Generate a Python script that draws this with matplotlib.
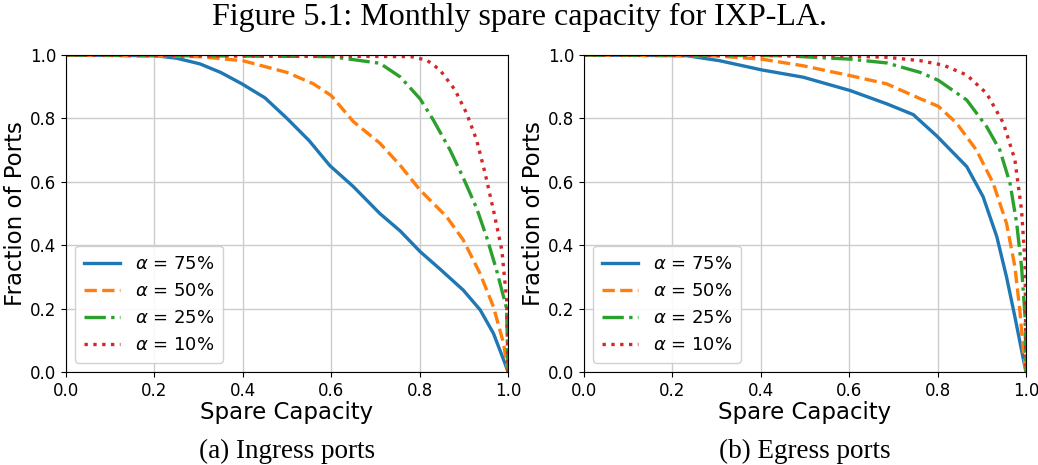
import numpy as np
import matplotlib
matplotlib.use("Agg")
import matplotlib.pyplot as plt

# fraction of ports with at least the given monthly spare capacity
ingress_75_x = [0.0, 0.2, 0.25, 0.303, 0.35, 0.398, 0.45, 0.5, 0.55, 0.597, 0.65, 0.71, 0.756, 0.801, 0.846, 0.899, 0.937, 0.967, 0.993, 1.0]
ingress_75_y = [1.0, 0.998, 0.99, 0.972, 0.945, 0.909, 0.865, 0.80, 0.73, 0.651, 0.585, 0.50, 0.445, 0.38, 0.325, 0.258, 0.196, 0.122, 0.028, 0.0]
ingress_50_x = [0.0, 0.3, 0.4, 0.5, 0.56, 0.6, 0.65, 0.71, 0.756, 0.801, 0.861, 0.899, 0.937, 0.967, 0.99, 1.0]
ingress_50_y = [1.0, 0.995, 0.982, 0.945, 0.909, 0.872, 0.79, 0.722, 0.652, 0.574, 0.49, 0.416, 0.31, 0.206, 0.09, 0.0]
ingress_25_x = [0.0, 0.6, 0.71, 0.756, 0.801, 0.831, 0.869, 0.899, 0.929, 0.952, 0.974, 0.997, 1.0]
ingress_25_y = [1.0, 0.995, 0.974, 0.931, 0.862, 0.795, 0.70, 0.612, 0.517, 0.424, 0.322, 0.20, 0.0]
ingress_10_x = [0.0, 0.78, 0.816, 0.846, 0.88, 0.906, 0.929, 0.948, 0.967, 0.986, 0.997, 1.0]
ingress_10_y = [1.0, 0.995, 0.984, 0.953, 0.89, 0.817, 0.732, 0.628, 0.511, 0.385, 0.227, 0.0]

egress_75_x = [0.0, 0.232, 0.307, 0.402, 0.496, 0.602, 0.685, 0.745, 0.798, 0.866, 0.903, 0.934, 0.956, 0.975, 0.99, 1.0]
egress_75_y = [1.0, 0.998, 0.982, 0.953, 0.93, 0.888, 0.846, 0.812, 0.745, 0.648, 0.553, 0.427, 0.30, 0.174, 0.069, 0.0]
egress_50_x = [0.0, 0.3, 0.402, 0.496, 0.602, 0.685, 0.761, 0.802, 0.843, 0.888, 0.926, 0.956, 0.975, 0.986, 0.994, 1.0]
egress_50_y = [1.0, 0.997, 0.987, 0.966, 0.935, 0.909, 0.862, 0.838, 0.785, 0.70, 0.595, 0.469, 0.332, 0.196, 0.069, 0.0]
egress_25_x = [0.0, 0.45, 0.602, 0.685, 0.761, 0.802, 0.866, 0.911, 0.941, 0.964, 0.979, 0.99, 0.998, 1.0]
egress_25_y = [1.0, 0.998, 0.987, 0.975, 0.945, 0.92, 0.858, 0.774, 0.70, 0.595, 0.469, 0.332, 0.174, 0.0]
egress_10_x = [0.0, 0.55, 0.685, 0.761, 0.813, 0.866, 0.911, 0.949, 0.975, 0.99, 0.998, 1.0]
egress_10_y = [1.0, 0.998, 0.993, 0.982, 0.968, 0.937, 0.879, 0.785, 0.669, 0.511, 0.343, 0.0]

labels = [r"$\alpha$ = 75%", r"$\alpha$ = 50%", r"$\alpha$ = 25%", r"$\alpha$ = 10%"]
xticks = [0.0, 0.2, 0.4, 0.6, 0.8, 1.0]
yticks = [0.0, 0.2, 0.4, 0.6, 0.8, 1.0]

panels = [
    ("(a) Ingress ports", [(ingress_75_x, ingress_75_y), (ingress_50_x, ingress_50_y),
                           (ingress_25_x, ingress_25_y), (ingress_10_x, ingress_10_y)]),
    ("(b) Egress ports", [(egress_75_x, egress_75_y), (egress_50_x, egress_50_y),
                          (egress_25_x, egress_25_y), (egress_10_x, egress_10_y)]),
]

colors = ["#1f77b4", "#ff7f0e", "#2ca02c", "#d62728"]
styles = ["-", "--", "-.", ":"]

fig = plt.figure(figsize=(10.38, 4.65), dpi=100)
fig.text(0.5, 0.962, "Figure 5.1: Monthly spare capacity for IXP-LA.",
         ha="center", va="center", family="Liberation Serif", fontsize=23)

lefts = [0.0636, 0.5626]
for left, (caption, series) in zip(lefts, panels):
    ax = fig.add_axes([left, 0.2, 0.4258, 0.6817])
    for (x, y), c, ls, lab in zip(series, colors, styles, labels):
        ax.plot(x, y, ls, color=c, lw=2.4, label=lab)
    ax.set_xlim(0, 1)
    ax.set_ylim(0, 1)
    ax.set_xticks(xticks)
    ax.set_yticks(yticks)
    ax.tick_params(axis="both", labelsize=12)
    ax.grid(True, color="#cccccc", lw=1)
    ax.set_axisbelow(True)
    ax.set_ylabel("Fraction of Ports", fontsize=16.5, labelpad=2)
    ax.set_xlabel("Spare Capacity", fontsize=16.5, labelpad=1)
    ax.legend(loc="lower left", fontsize=13, handlelength=2.0,
              borderpad=0.5, labelspacing=0.5, framealpha=0.9)
    cx = left + 0.4258 / 2
    fig.text(cx, 0.029, caption, ha="center", va="center",
             family="Liberation Serif", fontsize=19.5)

fig.savefig("out.png", dpi=100)
